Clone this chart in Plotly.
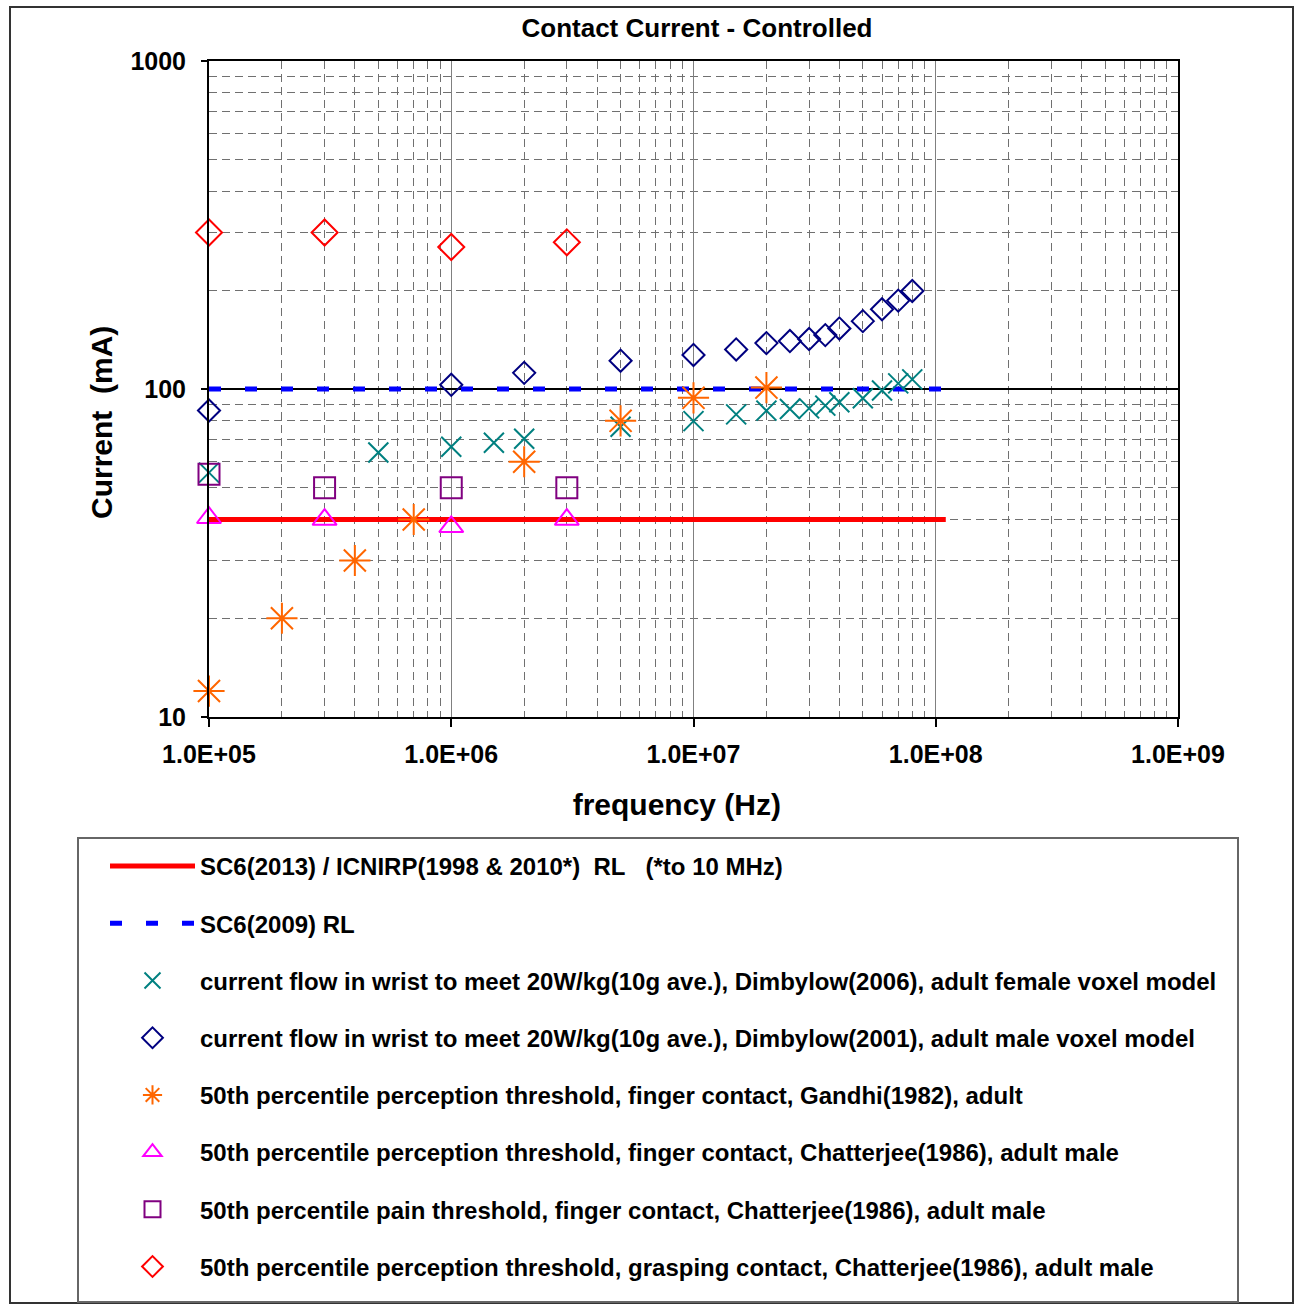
import plotly.graph_objects as go

# ---------------- data ----------------
rl_2013_f = [1e5, 1.1e8]
rl_2013_i = [40, 40]
rl_2009_f = [1e5, 1.1e8]
rl_2009_i = [100, 100]

female_f = [1e5, 5e5, 1e6, 1.5e6, 2e6, 5e6, 1e7, 1.5e7, 2e7, 2.5e7, 3e7, 3.5e7, 4e7, 5e7, 6e7, 7e7, 8e7]
female_i = [55.6, 64, 66.7, 68.6, 70.5, 76.7, 79.8, 83.7, 85.9, 86.9, 87.3, 89.0, 91.1, 93.7, 98.9, 104, 107]

male_f = [1e5, 1e6, 2e6, 5e6, 1e7, 1.5e7, 2e7, 2.5e7, 3e7, 3.5e7, 4e7, 5e7, 6e7, 7e7, 8e7]
male_i = [86, 103, 112, 122, 127, 132, 138, 140, 142, 146, 153, 161, 175, 186, 199]

gandhi_f = [1e5, 2e5, 4e5, 7e5, 2e6, 5e6, 1e7, 2e7]
gandhi_i = [12, 20, 30, 40, 60, 80, 94, 101]

chat_perc_f = [1e5, 3e5, 1e6, 3e6]
chat_perc_i = [40.5, 40, 38, 40]

chat_pain_f = [1e5, 3e5, 1e6, 3e6]
chat_pain_i = [55, 50, 50, 50]

chat_grasp_f = [1e5, 3e5, 1e6, 3e6]
chat_grasp_i = [300, 300, 271, 280]

x_tickvals = [1e5, 1e6, 1e7, 1e8, 1e9]
x_ticktext = ["1.0E+05", "1.0E+06", "1.0E+07", "1.0E+08", "1.0E+09"]
y_tickvals = [10, 100, 1000]
y_ticktext = ["10", "100", "1000"]

names = [
    "SC6(2013) / ICNIRP(1998 & 2010*)  RL   (*to 10 MHz)",
    "SC6(2009) RL",
    "current flow in wrist to meet 20W/kg(10g ave.), Dimbylow(2006), adult female voxel model",
    "current flow in wrist to meet 20W/kg(10g ave.), Dimbylow(2001), adult male voxel model",
    "50th percentile perception threshold, finger contact, Gandhi(1982), adult",
    "50th percentile perception threshold, finger contact, Chatterjee(1986), adult male",
    "50th percentile pain threshold, finger contact, Chatterjee(1986), adult male",
    "50th percentile perception threshold, grasping contact, Chatterjee(1986), adult male",
]

NB = "\u00a0"
ZW = "\u200b"
FONT = "Liberation Sans, Arial, sans-serif"

fig = go.Figure()

fig.add_trace(go.Scatter(x=rl_2013_f, y=rl_2013_i, mode="lines", name=names[0].replace("   ", NB * 3).replace("  ", NB * 2), legendgroup="g0",
                         line=dict(color="#FF0000", width=5), cliponaxis=False))
fig.add_trace(go.Scatter(x=rl_2009_f, y=rl_2009_i, mode="lines", name=names[1], legendgroup="g1",
                         line=dict(color="#0000FF", width=5, dash="12px,24px"), cliponaxis=False))
fig.add_trace(go.Scatter(x=female_f, y=female_i, mode="markers", name=names[2], legendgroup="g2",
                         cliponaxis=False,
                         marker=dict(symbol="x-thin-open", size=20, color="#008080",
                                     line=dict(color="#008080", width=2))))
fig.add_trace(go.Scatter(x=male_f, y=male_i, mode="markers", name=names[3], legendgroup="g3",
                         cliponaxis=False,
                         marker=dict(symbol="diamond-open", size=17, color="#000080",
                                     line=dict(color="#000080", width=2))))
fig.add_trace(go.Scatter(x=gandhi_f, y=gandhi_i, mode="markers", name=names[4], legendgroup="g4",
                         cliponaxis=False,
                         marker=dict(symbol="asterisk-open", size=26, color="#FF6600",
                                     line=dict(color="#FF6600", width=2))))
fig.add_trace(go.Scatter(x=chat_perc_f, y=chat_perc_i, mode="markers", name=names[5], legendgroup="g5",
                         cliponaxis=False,
                         marker=dict(symbol="triangle-up-open", size=21, color="#FF00FF",
                                     line=dict(color="#FF00FF", width=2))))
fig.add_trace(go.Scatter(x=chat_pain_f, y=chat_pain_i, mode="markers", name=names[6], legendgroup="g6",
                         cliponaxis=False,
                         marker=dict(symbol="square-open", size=21, color="#800080",
                                     line=dict(color="#800080", width=2))))
fig.add_trace(go.Scatter(x=chat_grasp_f, y=chat_grasp_i, mode="markers", name=names[7], legendgroup="g7",
                         cliponaxis=False,
                         marker=dict(symbol="diamond-open", size=20, color="#FF0000",
                                     line=dict(color="#FF0000", width=2))))

minor_x = [m * 10 ** e for e in range(5, 9) for m in range(2, 10)]
minor_y = [m * 10 ** e for e in range(1, 3) for m in range(2, 10)]

W, H = 1299, 1304
L, R, T, B = 209, 121, 61, 587
pw, ph = W - L - R, H - T - B

def px(xp):
    return (xp - L) / pw

def py(yp):
    return (H - B - yp) / ph

fig.update_layout(
    width=W, height=H,
    margin=dict(l=L, r=R, t=T, b=B, autoexpand=False),
    paper_bgcolor="white", plot_bgcolor="white",
    font=dict(family=FONT, color="black", size=24, weight="bold"),
    title=dict(text="Contact Current - Controlled", x=px(697), xref="paper", xanchor="center",
               y=1 - 28 / H, yanchor="middle", yref="container",
               font=dict(size=26, family=FONT, weight="bold", color="black")),
    showlegend=True,
    legend=dict(x=px(105), y=py(844), xanchor="left", yanchor="top",
                xref="paper", yref="paper",
                traceorder="grouped", tracegroupgap=23, itemwidth=85,
                font=dict(size=24, family=FONT, weight="bold", color="black"),
                bgcolor="rgba(0,0,0,0)", borderwidth=0, itemsizing="trace"),
    xaxis=dict(type="log", range=[5, 9], tickmode="array", tickvals=x_tickvals, ticktext=x_ticktext,
               showline=True, linecolor="black", linewidth=2, mirror=True,
               ticks="outside", ticklen=8, tickwidth=2, tickcolor="black",
               ticklabelstandoff=6,
               tickfont=dict(size=25, family=FONT, weight="bold"),
               showgrid=True, gridcolor="#808080", gridwidth=1,
               minor=dict(tickmode="array", tickvals=minor_x, showgrid=True, gridcolor="#707070",
                          griddash="8px,5px", gridwidth=1, ticks=""),
               title=dict(text="frequency" + NB + "(Hz)" + NB * 4 + ZW, standoff=27,
                          font=dict(size=30, family=FONT, weight="bold")),
               zeroline=False),
    yaxis=dict(type="log", range=[1, 3], tickmode="array", tickvals=y_tickvals, ticktext=y_ticktext,
               showline=True, linecolor="black", linewidth=2, mirror=True,
               ticks="outside", ticklen=6, tickwidth=2, tickcolor="black",
               ticklabelstandoff=10,
               tickfont=dict(size=25, family=FONT, weight="bold"),
               showgrid=True, gridcolor="black", gridwidth=2,
               minor=dict(tickmode="array", tickvals=minor_y, showgrid=True, gridcolor="#707070",
                          griddash="8px,5px", gridwidth=1, ticks=""),
               title=dict(text="Current" + NB * 2 + "(mA)" + NB * 8 + ZW, standoff=9,
                          font=dict(size=30, family=FONT, weight="bold")),
               zeroline=False),
    shapes=[
        dict(type="rect", xref="paper", yref="paper", x0=px(10), x1=px(1293), y0=py(7), y1=py(1303),
             line=dict(color="#333333", width=2), fillcolor="rgba(0,0,0,0)", layer="below"),
        dict(type="rect", xref="paper", yref="paper", x0=px(78), x1=px(1238), y0=py(838), y1=py(1302),
             line=dict(color="#666666", width=2), fillcolor="rgba(0,0,0,0)", layer="below"),
    ],
)

fig.write_html("out.html")
